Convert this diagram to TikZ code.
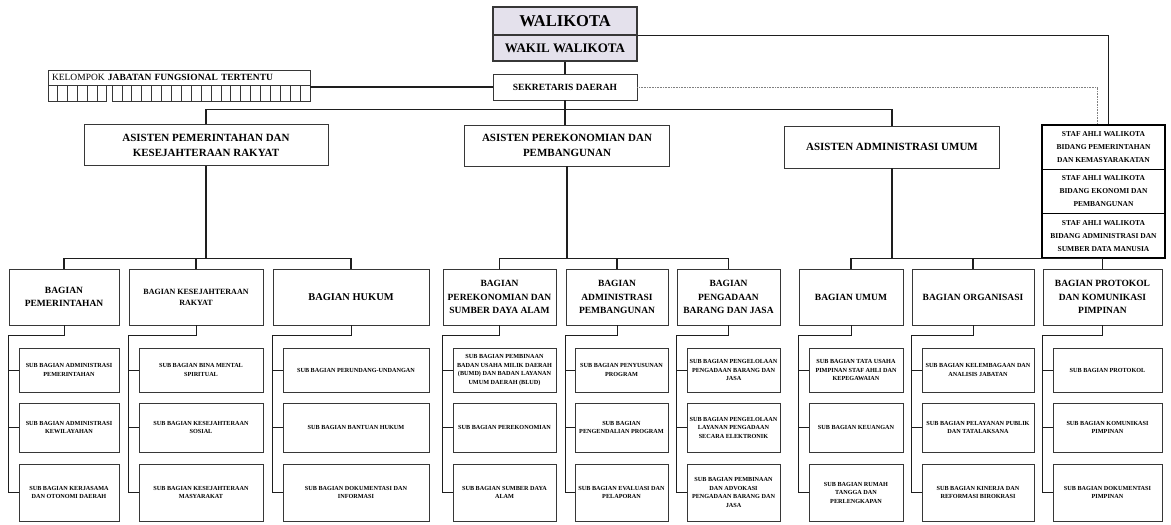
\documentclass[tikz,border=0pt]{standalone}
\usepackage{fontspec}
\setmainfont{Liberation Serif}
\usetikzlibrary{positioning,calc}
\definecolor{linegray}{RGB}{30,30,30}
\definecolor{boxgray}{RGB}{55,55,55}
\definecolor{headfill}{RGB}{228,225,236}

\begin{document}
\begin{tikzpicture}[x=1pt,y=-1pt,
    box/.style={draw=boxgray, line width=0.9pt, inner sep=1pt, align=center, text=black},
    headbox/.style={box, line width=1.3pt, fill=headfill},
    asbox/.style={box, minimum height=41, font=\fontsize{11}{15}\selectfont\bfseries},
    stafbox/.style={box, draw=black, line width=1.4pt, minimum width=123, minimum height=44.3,
        font=\fontsize{7.5}{13}\selectfont\bfseries},
    bagbox/.style={box, minimum height=56, font=\fontsize{9.5}{13.5}\selectfont\bfseries},
    subbox/.style={box, line width=0.8pt, font=\fontsize{6.2}{8.5}\selectfont\bfseries},
    cell/.style={draw=boxgray, line width=0.7pt},
    conn/.style={draw=linegray, line width=1.1pt},
    subconn/.style={draw=linegray, line width=0.8pt},
    dotconn/.style={draw=gray, line width=0.6pt, densely dotted}]

    \useasboundingbox (0,0) rectangle (1171,525);

    % Walikota, wakil and sekretaris
    \node[headbox, minimum width=144, minimum height=28, font=\fontsize{16.5}{18}\selectfont\bfseries] (walikota) at (565,21) {WALIKOTA};
    \node[headbox, minimum width=144, minimum height=26, font=\fontsize{13}{15}\selectfont\bfseries] (wakil) at (565,48) {WAKIL WALIKOTA};
    \node[box, minimum width=144, minimum height=26, font=\fontsize{9.5}{11}\selectfont\bfseries] (sek) at (565,87) {SEKRETARIS DAERAH};

    % Kelompok jabatan fungsional
    \node[box, minimum width=262, minimum height=15, text width=254, align=left, font=\fontsize{9.5}{11}\selectfont] (kjf) at (179,77.5) {KELOMPOK \textbf{JABATAN FUNGSIONAL TERTENTU}};
    \foreach \i in {0,...,5}
        \draw[cell] ({48+9.8*\i},85) rectangle ++(9.8,16);
    \foreach \i in {0,...,19}
        \draw[cell] ({112+9.9*\i},85) rectangle ++(9.9,16);

    % Staf ahli
    \node[stafbox] (staf1) at (1103.5,147.2) {STAF AHLI WALIKOTA\\BIDANG PEMERINTAHAN\\DAN KEMASYARAKATAN};
    \node[stafbox] (staf2) at (1103.5,191.5) {STAF AHLI WALIKOTA\\BIDANG EKONOMI DAN\\PEMBANGUNAN};
    \node[stafbox] (staf3) at (1103.5,235.8) {STAF AHLI WALIKOTA\\BIDANG ADMINISTRASI DAN\\SUMBER DATA MANUSIA};

    % Asisten
    \node[asbox, minimum width=244] (a1) at (206,145) {ASISTEN PEMERINTAHAN DAN\\KESEJAHTERAAN RAKYAT};
    \node[asbox, minimum width=205] (a2) at (567,145.5) {ASISTEN PEREKONOMIAN DAN\\PEMBANGUNAN};
    \node[asbox, minimum width=215, minimum height=42] (a3) at (892,147) {ASISTEN ADMINISTRASI UMUM};

    % Bagian
    \node[bagbox, minimum width=110] (b11) at (64,297) {BAGIAN\\PEMERINTAHAN};
    \node[bagbox, minimum width=134, font=\fontsize{8}{11}\selectfont\bfseries] (b12) at (196,297) {BAGIAN KESEJAHTERAAN\\RAKYAT};
    \node[bagbox, minimum width=156, font=\fontsize{10.4}{13.5}\selectfont\bfseries] (b13) at (351,297) {BAGIAN HUKUM};
    \node[bagbox, minimum width=113] (b21) at (499.5,297) {BAGIAN\\PEREKONOMIAN DAN\\SUMBER DAYA ALAM};
    \node[bagbox, minimum width=102] (b22) at (617,297) {BAGIAN\\ADMINISTRASI\\PEMBANGUNAN};
    \node[bagbox, minimum width=103] (b23) at (728.5,297) {BAGIAN\\PENGADAAN\\BARANG DAN JASA};
    \node[bagbox, minimum width=104] (b31) at (851,297) {BAGIAN UMUM};
    \node[bagbox, minimum width=122] (b32) at (973,297) {BAGIAN ORGANISASI};
    \node[bagbox, minimum width=119] (b33) at (1102.5,297) {BAGIAN PROTOKOL\\DAN KOMUNIKASI\\PIMPINAN};

    % Sub bagian: pemerintahan, kesejahteraan rakyat, hukum
    \node[subbox, minimum width=100, minimum height=44] (s111) at (69,370) {SUB BAGIAN ADMINISTRASI\\PEMERINTAHAN};
    \node[subbox, minimum width=100, minimum height=49] (s112) at (69,427.5) {SUB BAGIAN ADMINISTRASI\\KEWILAYAHAN};
    \node[subbox, minimum width=100, minimum height=57] (s113) at (69,492.5) {SUB BAGIAN KERJASAMA\\DAN OTONOMI DAERAH};
    \node[subbox, minimum width=124, minimum height=44] (s121) at (201,370) {SUB BAGIAN BINA MENTAL\\SPIRITUAL};
    \node[subbox, minimum width=124, minimum height=49] (s122) at (201,427.5) {SUB BAGIAN KESEJAHTERAAN\\SOSIAL};
    \node[subbox, minimum width=124, minimum height=57] (s123) at (201,492.5) {SUB BAGIAN KESEJAHTERAAN\\MASYARAKAT};
    \node[subbox, minimum width=146, minimum height=44] (s131) at (356,370) {SUB BAGIAN PERUNDANG-UNDANGAN};
    \node[subbox, minimum width=146, minimum height=49] (s132) at (356,427.5) {SUB BAGIAN BANTUAN HUKUM};
    \node[subbox, minimum width=146, minimum height=57] (s133) at (356,492.5) {SUB BAGIAN DOKUMENTASI DAN\\INFORMASI};

    % Sub bagian: perekonomian, administrasi pembangunan, pengadaan
    \node[subbox, minimum width=103, minimum height=44] (s211) at (504.5,370) {SUB BAGIAN PEMBINAAN\\BADAN USAHA MILIK DAERAH\\(BUMD) DAN BADAN LAYANAN\\UMUM DAERAH (BLUD)};
    \node[subbox, minimum width=103, minimum height=49] (s212) at (504.5,427.5) {SUB BAGIAN PEREKONOMIAN};
    \node[subbox, minimum width=103, minimum height=57] (s213) at (504.5,492.5) {SUB BAGIAN SUMBER DAYA\\ALAM};
    \node[subbox, minimum width=93, minimum height=44] (s221) at (621.5,370) {SUB BAGIAN PENYUSUNAN\\PROGRAM};
    \node[subbox, minimum width=93, minimum height=49] (s222) at (621.5,427.5) {SUB BAGIAN\\PENGENDALIAN PROGRAM};
    \node[subbox, minimum width=93, minimum height=57] (s223) at (621.5,492.5) {SUB BAGIAN EVALUASI DAN\\PELAPORAN};
    \node[subbox, minimum width=93, minimum height=44] (s231) at (733.5,370) {SUB BAGIAN PENGELOLAAN\\PENGADAAN BARANG DAN\\JASA};
    \node[subbox, minimum width=93, minimum height=49] (s232) at (733.5,427.5) {SUB BAGIAN PENGELOLAAN\\LAYANAN PENGADAAN\\SECARA ELEKTRONIK};
    \node[subbox, minimum width=93, minimum height=57] (s233) at (733.5,492.5) {SUB BAGIAN PEMBINAAN\\DAN ADVOKASI\\PENGADAAN BARANG DAN\\JASA};

    % Sub bagian: umum, organisasi, protokol
    \node[subbox, minimum width=94, minimum height=44] (s311) at (856,370) {SUB BAGIAN TATA USAHA\\PIMPINAN STAF AHLI DAN\\KEPEGAWAIAN};
    \node[subbox, minimum width=94, minimum height=49] (s312) at (856,427.5) {SUB BAGIAN KEUANGAN};
    \node[subbox, minimum width=94, minimum height=57] (s313) at (856,492.5) {SUB BAGIAN RUMAH\\TANGGA DAN\\PERLENGKAPAN};
    \node[subbox, minimum width=112, minimum height=44] (s321) at (978,370) {SUB BAGIAN KELEMBAGAAN DAN\\ANALISIS JABATAN};
    \node[subbox, minimum width=112, minimum height=49] (s322) at (978,427.5) {SUB BAGIAN PELAYANAN PUBLIK\\DAN TATALAKSANA};
    \node[subbox, minimum width=112, minimum height=57] (s323) at (978,492.5) {SUB BAGIAN KINERJA DAN\\REFORMASI BIROKRASI};
    \node[subbox, minimum width=109, minimum height=44] (s331) at (1107.5,370) {SUB BAGIAN PROTOKOL};
    \node[subbox, minimum width=109, minimum height=49] (s332) at (1107.5,427.5) {SUB BAGIAN KOMUNIKASI\\PIMPINAN};
    \node[subbox, minimum width=109, minimum height=57] (s333) at (1107.5,492.5) {SUB BAGIAN DOKUMENTASI\\PIMPINAN};

    % Top lines
    \draw[conn] (wakil.south) -- (sek.north);
    \draw[conn] (walikota.south east) -| ($(staf1.north)+(5,0)$);
    \draw[dotconn] (sek.east) -| ($(staf1.north)+(-6,0)$);
    \draw[conn] (sek.west) -- (sek.west -| kjf.east);
    \draw[conn] (sek.south) -- (sek.south |- a2.north);
    \draw[conn] (a1.north) -- ++(0,-15) -| (a3.north);

    % Asisten to bagian
    \draw[conn] (a1.south) -- (a1.south |- 0,259);
    \draw[conn] (b11.north) -- ++(0,-10) -| (b13.north);
    \draw[conn] (b12.north) -- ++(0,-10);
    \draw[conn] (a2.south) -- (a2.south |- 0,259);
    \draw[conn] (b21.north) -- ++(0,-10) -| (b23.north);
    \draw[conn] (b22.north) -- ++(0,-10);
    \draw[conn] (a3.south) -- (a3.south |- 0,259);
    \draw[conn] (b31.north) -- ++(0,-10) -| (b33.north);
    \draw[conn] (b32.north) -- ++(0,-10);

    % Bagian to sub bagian
    \draw[subconn] (b11.south) -- ++(0,10) -| (s113.west -| b11.west) -- (s113.west) (s111.west) -- (s111.west -| b11.west) (s112.west) -- (s112.west -| b11.west);
    \draw[subconn] (b12.south) -- ++(0,10) -| (s123.west -| b12.west) -- (s123.west) (s121.west) -- (s121.west -| b12.west) (s122.west) -- (s122.west -| b12.west);
    \draw[subconn] (b13.south) -- ++(0,10) -| (s133.west -| b13.west) -- (s133.west) (s131.west) -- (s131.west -| b13.west) (s132.west) -- (s132.west -| b13.west);
    \draw[subconn] (b21.south) -- ++(0,10) -| (s213.west -| b21.west) -- (s213.west) (s211.west) -- (s211.west -| b21.west) (s212.west) -- (s212.west -| b21.west);
    \draw[subconn] (b22.south) -- ++(0,10) -| (s223.west -| b22.west) -- (s223.west) (s221.west) -- (s221.west -| b22.west) (s222.west) -- (s222.west -| b22.west);
    \draw[subconn] (b23.south) -- ++(0,10) -| (s233.west -| b23.west) -- (s233.west) (s231.west) -- (s231.west -| b23.west) (s232.west) -- (s232.west -| b23.west);
    \draw[subconn] (b31.south) -- ++(0,10) -| (s313.west -| b31.west) -- (s313.west) (s311.west) -- (s311.west -| b31.west) (s312.west) -- (s312.west -| b31.west);
    \draw[subconn] (b32.south) -- ++(0,10) -| (s323.west -| b32.west) -- (s323.west) (s321.west) -- (s321.west -| b32.west) (s322.west) -- (s322.west -| b32.west);
    \draw[subconn] (b33.south) -- ++(0,10) -| (s333.west -| b33.west) -- (s333.west) (s331.west) -- (s331.west -| b33.west) (s332.west) -- (s332.west -| b33.west);
\end{tikzpicture}
\end{document}
